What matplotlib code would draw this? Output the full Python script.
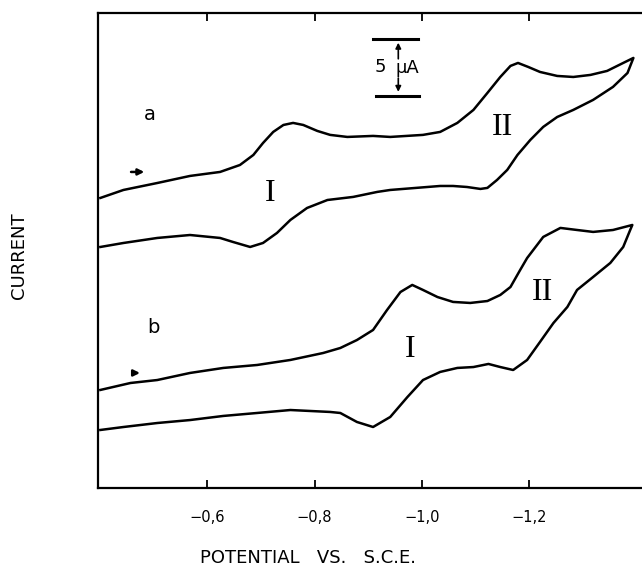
import numpy as np
import matplotlib
matplotlib.use("Agg")
import matplotlib.pyplot as plt

# potentials (V vs SCE) and current (uA, arbitrary offset)
a_fwd_x = [-0.401, -0.444, -0.507, -0.568, -0.624, -0.661, -0.686, -0.704, -0.723, -0.742,
           -0.760, -0.779, -0.805, -0.829, -0.861, -0.909, -0.941, -1.002, -1.034, -1.066,
           -1.096, -1.122, -1.146, -1.165, -1.179, -1.198, -1.220, -1.252, -1.282, -1.314,
           -1.345, -1.375, -1.394]
a_fwd_y = [25.44, 26.14, 26.75, 27.37, 27.72, 28.33, 29.21, 30.26, 31.23, 31.84,
           32.02, 31.84, 31.32, 30.97, 30.79, 30.88, 30.79, 30.97, 31.23, 32.02,
           33.16, 34.65, 36.05, 37.02, 37.28, 36.93, 36.49, 36.14, 36.05, 36.23,
           36.58, 37.28, 37.72]
a_rev_x = [-1.383, -1.356, -1.319, -1.282, -1.252, -1.226, -1.202, -1.178, -1.159, -1.140,
           -1.122, -1.109, -1.084, -1.058, -1.034, -0.941, -0.917, -0.872, -0.824, -0.786,
           -0.755, -0.730, -0.704, -0.680, -0.648, -0.624, -0.568, -0.507, -0.444, -0.401]
a_rev_y = [36.40, 35.18, 34.04, 33.16, 32.54, 31.67, 30.53, 29.21, 27.90, 27.02,
           26.32, 26.23, 26.40, 26.49, 26.49, 26.14, 25.97, 25.53, 25.26, 24.56,
           23.51, 22.37, 21.49, 21.14, 21.58, 21.93, 22.19, 21.93, 21.49, 21.14]

b_fwd_x = [-0.401, -0.457, -0.507, -0.568, -0.630, -0.693, -0.755, -0.816, -0.848, -0.879,
           -0.909, -0.935, -0.960, -0.982, -1.002, -1.029, -1.058, -1.090, -1.122, -1.146,
           -1.165, -1.183, -1.196, -1.226, -1.258, -1.289, -1.319, -1.356, -1.392]
b_fwd_y = [8.60, 9.21, 9.47, 10.09, 10.53, 10.79, 11.23, 11.84, 12.28, 12.98,
           13.86, 15.61, 17.19, 17.81, 17.37, 16.75, 16.32, 16.23, 16.40, 16.93,
           17.63, 19.12, 20.17, 22.02, 22.81, 22.63, 22.46, 22.63, 23.07]
b_rev_x = [-1.388, -1.375, -1.351, -1.319, -1.289, -1.271, -1.245, -1.220, -1.196, -1.170,
           -1.146, -1.124, -1.096, -1.066, -1.034, -1.002, -0.973, -0.941, -0.909, -0.879,
           -0.848, -0.829, -0.755, -0.693, -0.630, -0.568, -0.507, -0.444, -0.401]
b_rev_y = [22.63, 21.14, 19.74, 18.51, 17.37, 15.88, 14.47, 12.81, 11.23, 10.35,
           10.61, 10.88, 10.61, 10.53, 10.18, 9.47, 7.98, 6.23, 5.35, 5.79,
           6.58, 6.67, 6.84, 6.58, 6.32, 5.96, 5.70, 5.35, 5.09]

tick_pos = [-0.6, -0.8, -1.0, -1.2]
tick_lab = ["\u22120,6", "\u22120,8", "\u22121,0", "\u22121,2"]

fig = plt.figure(figsize=(6.42, 5.78), dpi=100)
ax = fig.add_axes([0.153, 0.1557, 0.847, 0.822])

for xs, ys in [(a_fwd_x + a_rev_x, a_fwd_y + a_rev_y), (b_fwd_x + b_rev_x, b_fwd_y + b_rev_y)]:
    ax.plot(xs, ys, color="black", lw=1.8, solid_joinstyle="round")

ax.set_xlim(-0.397, -1.410)
ax.set_ylim(0, 41.67)

ax.spines["right"].set_visible(False)
for s in ["left", "bottom", "top"]:
    ax.spines[s].set_linewidth(1.6)
ax.set_xticks(tick_pos)
ax.set_xticklabels(tick_lab, fontsize=10.5)
ax.set_yticks([])
ax.tick_params(axis="x", direction="in", top=True, length=6, width=1.3, pad=16)

ax.set_xlabel("POTENTIAL   VS.   S.C.E.", fontsize=13)
ax.xaxis.set_label_coords(0.385, -0.128)
ax.set_ylabel("CURRENT", fontsize=13)
ax.yaxis.set_label_coords(-0.13, 0.49)

# curve labels and scan-direction arrows
ax.text(-0.494, 32.72, "a", fontsize=14, ha="center", va="center")
ax.text(-0.499, 14.04, "b", fontsize=14, ha="center", va="center")
arr = dict(arrowstyle="-|>", color="black", lw=1.8, mutation_scale=9)
ax.annotate("", xy=(-0.488, 27.72), xytext=(-0.453, 27.72), arrowprops=arr)
ax.annotate("", xy=(-0.480, 10.09), xytext=(-0.457, 10.09), arrowprops=arr)

rom = dict(fontsize=23, family="Liberation Serif", ha="center", va="center")
ax.text(-0.717, 25.79, "I", **rom)
ax.text(-1.151, 31.58, "II", **rom)
ax.text(-0.978, 12.19, "I", **rom)
ax.text(-1.224, 17.11, "II", **rom)

# 5 uA scale bar
ax.plot([-0.909, -0.993], [39.39, 39.39], color="black", lw=2.2)
ax.plot([-0.915, -0.995], [34.39, 34.39], color="black", lw=2.2)
sb = dict(arrowstyle="-|>", color="black", lw=1.2, mutation_scale=8)
ax.annotate("", xy=(-0.956, 39.3), xytext=(-0.956, 37.4), arrowprops=sb)
ax.annotate("", xy=(-0.956, 34.5), xytext=(-0.956, 36.2), arrowprops=sb)
ax.text(-0.922, 36.9, "5", fontsize=13, ha="center", va="center")
ax.text(-0.972, 36.8, "\u03bcA", fontsize=13, ha="center", va="center")

fig.savefig("out.png", dpi=100)
